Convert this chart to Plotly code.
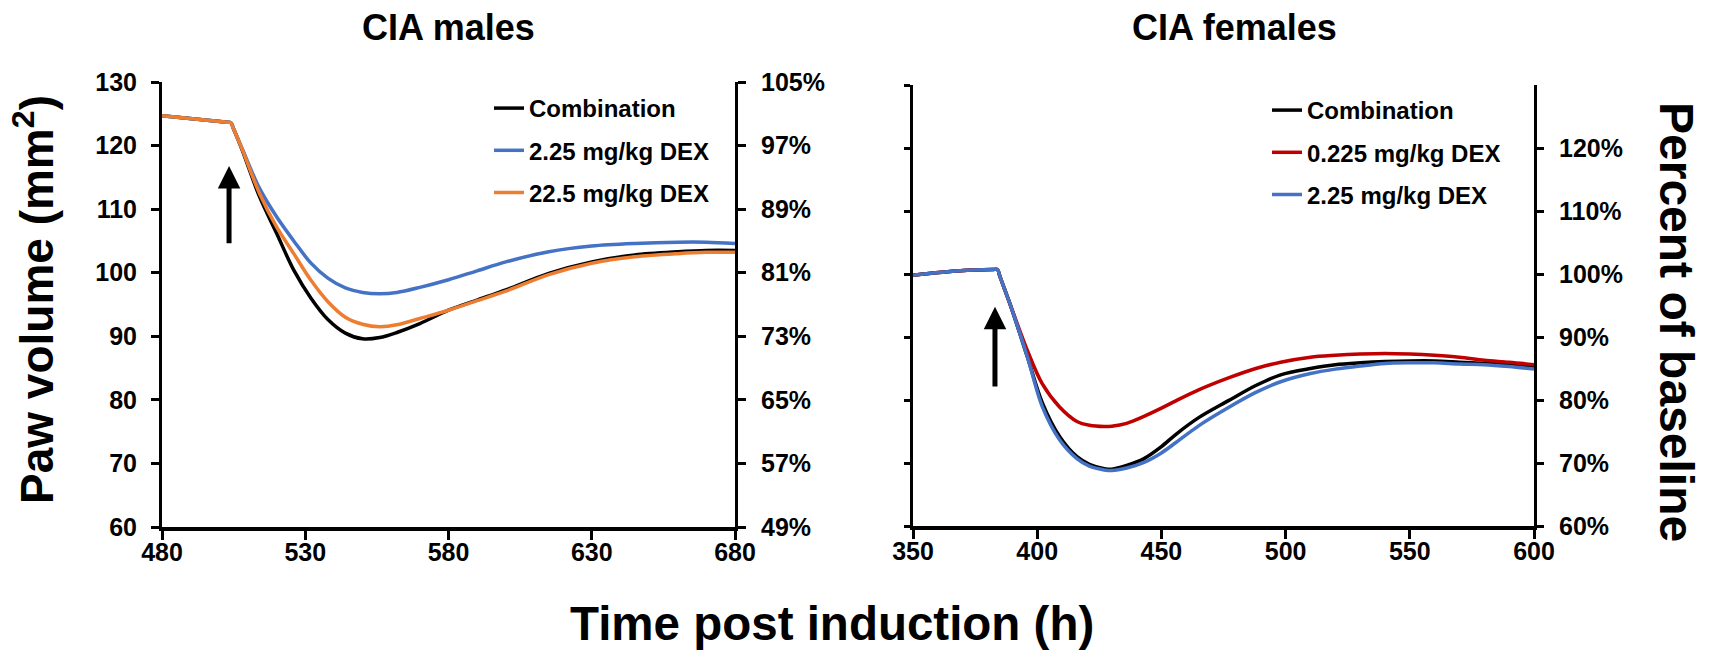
import plotly.graph_objects as go

# ---------------- data ----------------
male_time = [480, 502, 504, 505, 508, 514, 520, 526, 532, 538, 544, 550, 556, 562, 570,
             580, 590, 600, 615, 630, 645, 660, 670, 680]
male_combination = [124.7, 123.7, 123.6, 122.6, 119.3, 112.0, 106.2, 100.4, 96.0, 92.6, 90.5,
                    89.6, 89.8, 90.6, 92.0, 94.1, 95.7, 97.3, 99.9, 101.7, 102.8, 103.3,
                    103.5, 103.5]
male_dex_2_25 = [124.7, 123.7, 123.6, 122.6, 119.5, 113.3, 108.8, 105.0, 101.5, 99.1, 97.6,
                 96.9, 96.7, 96.9, 97.7, 98.9, 100.3, 101.7, 103.3, 104.2, 104.6, 104.8,
                 104.8, 104.6]
male_dex_22_5 = [124.7, 123.7, 123.6, 122.6, 119.4, 112.5, 107.2, 103.0, 98.8, 95.4, 93.0,
                 91.9, 91.5, 91.8, 92.8, 94.1, 95.6, 97.1, 99.7, 101.5, 102.5, 103.0,
                 103.2, 103.2]

female_time = [350, 369, 382, 384, 385, 389, 396, 402, 409, 416, 421, 427, 430, 436, 443,
               450, 456, 465, 477, 488, 498, 510, 520, 530, 540, 550, 560, 570, 580, 590,
               600]
female_combination = [99.8, 100.5, 100.7, 100.7, 99.6, 95.3, 86.9, 79.6, 74.2, 71.0, 69.8,
                      69.1, 69.0, 69.6, 70.7, 72.6, 74.6, 77.2, 79.9, 82.3, 84.0, 85.0,
                      85.6, 85.9, 86.1, 86.2, 86.2, 86.0, 85.8, 85.6, 85.3]
female_dex_0_225 = [99.8, 100.5, 100.7, 100.7, 99.6, 95.3, 87.9, 82.6, 78.9, 76.6, 76.0,
                    75.8, 75.85, 76.3, 77.4, 78.7, 79.9, 81.6, 83.5, 85.0, 86.0, 86.8,
                    87.1, 87.3, 87.4, 87.3, 87.1, 86.8, 86.3, 86.0, 85.6]
female_dex_2_25 = [99.8, 100.5, 100.7, 100.7, 99.6, 95.3, 86.9, 79.0, 73.7, 70.7, 69.5,
                   68.9, 68.8, 69.2, 70.1, 71.6, 73.3, 75.9, 78.8, 81.2, 82.9, 84.2,
                   84.9, 85.4, 85.8, 85.9, 85.9, 85.7, 85.6, 85.3, 84.9]

male_y_ticks = [60, 70, 80, 90, 100, 110, 120, 130]
male_pct_ticks = [49, 57, 65, 73, 81, 89, 97, 105]
male_x_ticks = [480, 530, 580, 630, 680]
female_x_ticks = [350, 400, 450, 500, 550, 600]
female_left_ticks = [60, 70, 80, 90, 100, 110, 120, 130]
female_pct_ticks = [60, 70, 80, 90, 100, 110, 120]

dose_time_male = 503.4
dose_time_female = 383.0

BLACK = "#000000"
BLUE = "#4472C4"
ORANGE = "#ED7D31"
RED = "#C00000"

W, H = 1709, 658
FONT = "Liberation Sans, Arial, sans-serif"


def px_x(p):
    return p / W


def px_y(p):
    return 1 - p / H


fig = go.Figure()

line_kw = dict(shape="spline", smoothing=0.9, width=3.5)

# males (left panel)
fig.add_trace(go.Scatter(x=male_time, y=male_combination, mode="lines", name="Combination",
                         line=dict(color=BLACK, **line_kw), xaxis="x", yaxis="y",
                         legend="legend", legendgroup="m1"))
fig.add_trace(go.Scatter(x=male_time, y=male_dex_2_25, mode="lines", name="2.25 mg/kg DEX",
                         line=dict(color=BLUE, **line_kw), xaxis="x", yaxis="y",
                         legend="legend", legendgroup="m2"))
fig.add_trace(go.Scatter(x=male_time, y=male_dex_22_5, mode="lines", name="22.5 mg/kg DEX",
                         line=dict(color=ORANGE, **line_kw), xaxis="x", yaxis="y",
                         legend="legend", legendgroup="m3"))
# empty trace so the right-hand percent axis of the male panel is drawn
fig.add_trace(go.Scatter(x=[], y=[], mode="lines", showlegend=False, hoverinfo="skip",
                         xaxis="x", yaxis="y2"))

# females (right panel)
fig.add_trace(go.Scatter(x=[], y=[], mode="lines", showlegend=False, hoverinfo="skip",
                         xaxis="x2", yaxis="y3"))
fig.add_trace(go.Scatter(x=female_time, y=female_combination, mode="lines", name="Combination",
                         line=dict(color=BLACK, **line_kw), xaxis="x2", yaxis="y4",
                         legend="legend2", legendgroup="f1"))
fig.add_trace(go.Scatter(x=female_time, y=female_dex_0_225, mode="lines", name="0.225 mg/kg DEX",
                         line=dict(color=RED, **line_kw), xaxis="x2", yaxis="y4",
                         legend="legend2", legendgroup="f2"))
fig.add_trace(go.Scatter(x=female_time, y=female_dex_2_25, mode="lines", name="2.25 mg/kg DEX",
                         line=dict(color=BLUE, **line_kw), xaxis="x2", yaxis="y4",
                         legend="legend2", legendgroup="f3"))

tickfont = dict(family=FONT, size=25, color="black", weight="bold")
ax_common = dict(showgrid=False, zeroline=False, showline=True, linecolor="black",
                 ticks="outside", tickcolor="black", tickwidth=2.5, tickfont=tickfont)

dom_x1 = [px_x(162), px_x(735)]
dom_x2 = [px_x(913), px_x(1534)]
dom_y1 = [px_y(527), px_y(82)]
dom_y2 = [px_y(526), px_y(85)]

legend_font = dict(family=FONT, size=24, color="black", weight="bold")

fig.update_layout(
    width=W, height=H,
    margin=dict(l=0, r=0, t=0, b=0, autoexpand=False),
    paper_bgcolor="white", plot_bgcolor="white",
    font=dict(family=FONT, color="black"),
    xaxis=dict(domain=dom_x1, range=[480, 680], tickvals=male_x_ticks, anchor="y",
               linewidth=4, ticklen=9, **ax_common),
    yaxis=dict(domain=dom_y1, range=[60, 130], tickvals=male_y_ticks, anchor="x",
               linewidth=3, ticklen=8, ticklabelstandoff=9, **ax_common),
    yaxis2=dict(domain=dom_y1, range=[49, 105], tickvals=male_pct_ticks,
                ticktext=[f"{v}%" for v in male_pct_ticks],
                overlaying="y", side="right", anchor="x",
                linewidth=3, ticklen=8, ticklabelstandoff=10, **ax_common),
    xaxis2=dict(domain=dom_x2, range=[350, 600], tickvals=female_x_ticks, anchor="y3",
                linewidth=4, ticklen=9, **ax_common),
    yaxis3=dict(domain=dom_y2, range=[60, 130], tickvals=female_left_ticks, anchor="x2",
                showticklabels=False, linewidth=3, ticklen=6, **ax_common),
    yaxis4=dict(domain=dom_y2, range=[60, 130], tickvals=female_pct_ticks,
                ticktext=[f"{v}%" for v in female_pct_ticks],
                overlaying="y3", side="right", anchor="x2",
                linewidth=3, ticklen=7, ticklabelstandoff=10, **ax_common),
    legend=dict(x=px_x(489), y=px_y(86), xanchor="left", yanchor="top",
                bgcolor="rgba(0,0,0,0)", tracegroupgap=8, traceorder="grouped",
                font=legend_font),
    legend2=dict(x=px_x(1267), y=px_y(88), xanchor="left", yanchor="top",
                 bgcolor="rgba(0,0,0,0)", tracegroupgap=8, traceorder="grouped",
                 font=legend_font),
    showlegend=True,
)

# pull the x tick labels a little closer to the axis (as in the reference)
try:
    fig.update_xaxes(ticklabelstandoff=-9)
except ValueError:
    fig.update_xaxes(ticklen=5)

title_font = dict(family=FONT, size=36, color="black", weight="bold")
big_font = dict(family=FONT, size=46, color="black", weight="bold")

annotations = [
    dict(text="CIA males", x=px_x(448), y=px_y(27), xref="paper", yref="paper",
         showarrow=False, font=title_font, xanchor="center", yanchor="middle"),
    dict(text="CIA females", x=px_x(1234), y=px_y(27), xref="paper", yref="paper",
         showarrow=False, font=title_font, xanchor="center", yanchor="middle"),
    dict(text="Paw volume (mm<sup>2</sup>)", x=px_x(34), y=px_y(300), xref="paper", yref="paper",
         showarrow=False, font=big_font, textangle=-90, xanchor="center", yanchor="middle"),
    dict(text="Percent of baseline", x=px_x(1676), y=px_y(322), xref="paper", yref="paper",
         showarrow=False, font=dict(big_font, size=48), textangle=90,
         xanchor="center", yanchor="middle"),
    dict(text="Time post induction (h)", x=px_x(832), y=px_y(623), xref="paper", yref="paper",
         showarrow=False, font=dict(big_font, size=47.5), xanchor="center", yanchor="middle"),
    # dose arrows
    dict(x=dose_time_male, y=116.8, ax=dose_time_male, ay=104.4, xref="x", yref="y",
         axref="x", ayref="y", showarrow=True, arrowhead=2, arrowsize=0.9, arrowwidth=5,
         arrowcolor="black", text=""),
    dict(x=dose_time_female, y=94.8, ax=dose_time_female, ay=81.9, xref="x2", yref="y4",
         axref="x2", ayref="y4", showarrow=True, arrowhead=2, arrowsize=0.9, arrowwidth=5,
         arrowcolor="black", text=""),
]
fig.update_layout(annotations=annotations)

# remove the default 8px page margin so the figure fills the window exactly
fig.write_html("out.html",
               config={"displayModeBar": False},
               post_script="document.body.style.margin='0px';document.body.style.overflow='hidden';")
